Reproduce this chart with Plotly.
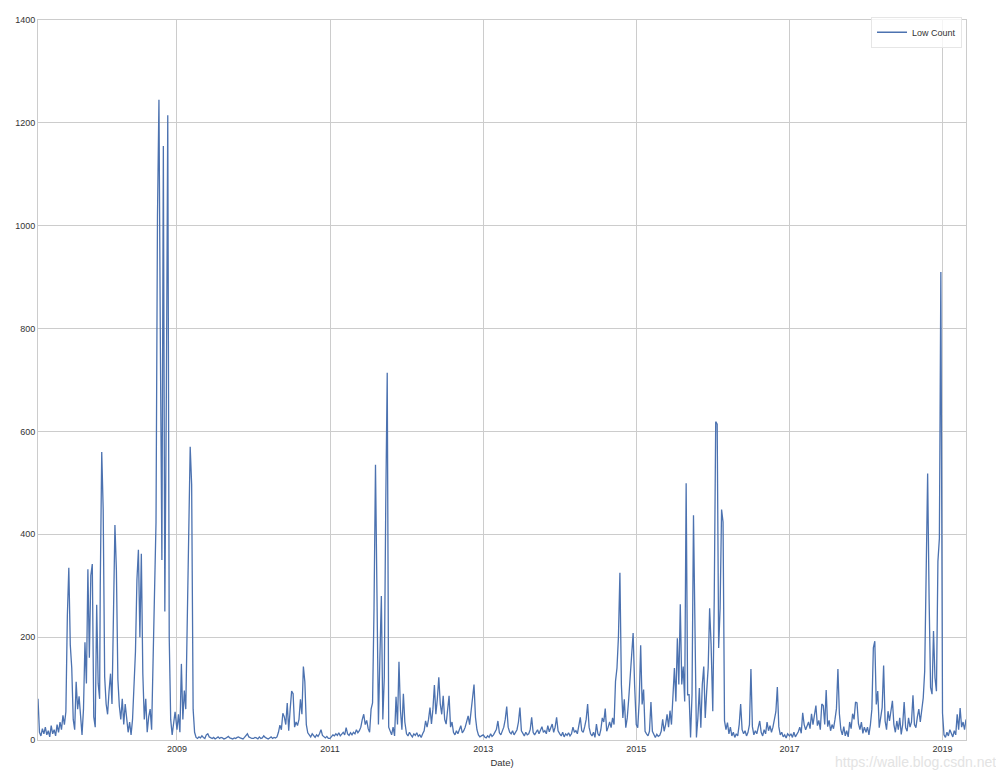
import pandas as pd
import plotly.graph_objects as go

# Weekly readings of "Low Count"
low_2007 = [80, 15, 8, 22, 12, 25, 10, 18, 6, 28, 12, 20, 8, 30, 15, 35, 20, 48, 30, 55,
            241, 335, 185, 140, 40, 20, 113, 60, 85, 40, 10, 60, 190, 110, 332, 160, 320, 342,
            45, 25, 263, 110, 80]
low_2008 = [300, 560, 448, 123, 70, 50, 95, 129, 70, 250, 418, 330, 118, 66, 40, 80, 30, 70,
            45, 15, 35, 10, 40, 120, 172, 312, 370, 200, 362, 130, 40, 80, 15, 45, 60, 20,
            180, 292, 424, 1020, 1245, 752, 350, 1155, 250, 652, 1215, 200, 40, 10, 30, 55]
low_2009 = [20, 50, 15, 148, 40, 96, 60, 225, 441, 570, 497, 60, 15,
            5, 3, 6, 4, 8, 5, 3, 10, 12, 6, 4, 3, 5, 2, 4, 6, 3, 5, 4, 2, 3, 5, 7, 4, 3, 2,
            4, 3, 5, 6, 4, 3, 2, 5, 8, 12, 6, 4, 3]
low_2010 = [3, 5, 4, 2, 6, 3, 4, 8, 5, 3, 2, 4, 6, 3, 5, 4, 6, 15, 29, 20, 52, 45, 30, 72,
            18, 60, 95, 90, 25, 35, 28, 40, 79, 50, 143, 113, 30, 14, 10, 6, 12, 8, 5, 10,
            7, 12, 20, 9, 6, 4, 7, 3]
low_2011 = [3, 6, 10, 8, 12, 9, 14, 8, 11, 15, 10, 24, 12, 9, 14, 10, 15, 12, 20, 14, 18,
            25, 40, 50, 30, 38, 22, 15, 60, 72, 257, 535, 285, 30, 160, 280, 40, 122, 460,
            714, 25, 19, 10, 25, 8, 84, 30, 152, 58, 20, 90, 35]
low_2012 = [12, 8, 15, 10, 6, 12, 9, 14, 7, 10, 5, 12, 18, 37, 25, 40, 63, 31, 60, 107, 50,
            80, 122, 70, 50, 86, 40, 31, 60, 86, 25, 35, 15, 10, 18, 12, 20, 28, 14, 18, 25,
            35, 47, 30, 57, 80, 108, 44, 20, 10, 6, 8]
low_2013 = [10, 6, 4, 8, 5, 12, 7, 10, 15, 21, 37, 14, 10, 18, 25, 40, 65, 25, 15, 12, 18,
            10, 14, 20, 35, 63, 18, 12, 8, 15, 10, 12, 20, 44, 15, 10, 14, 20, 12, 21, 26,
            15, 18, 12, 28, 16, 22, 31, 15, 25, 44, 18]
low_2014 = [12, 8, 15, 6, 12, 9, 14, 8, 12, 25, 15, 18, 12, 25, 44, 18, 15, 26, 40, 70, 25,
            12, 8, 15, 5, 31, 12, 8, 20, 43, 35, 61, 17, 25, 35, 24, 43, 30, 114, 140, 201,
            325, 108, 43, 79, 24, 43, 80, 127, 166, 208, 108]
low_2015 = [30, 24, 75, 184, 69, 98, 17, 12, 8, 17, 74, 17, 10, 5, 11, 7, 9, 17, 40, 17, 30,
            50, 25, 57, 30, 90, 140, 75, 198, 108, 264, 108, 143, 75, 499, 88, 88, 5, 88, 437,
            192, 5, 43, 101, 24, 108, 143, 43, 95, 140, 256, 185]
low_2016 = [56, 275, 619, 614, 179, 256, 448, 424, 37, 20, 34, 12, 25, 8, 15, 5, 12, 8, 30,
            70, 20, 12, 18, 8, 15, 30, 138, 26, 10, 18, 12, 22, 37, 15, 8, 20, 12, 35, 18, 28,
            15, 25, 41, 55, 103, 26, 10, 15, 6, 10, 4, 12]
low_2017 = [8, 12, 5, 15, 6, 10, 16, 25, 13, 53, 30, 20, 28, 35, 22, 51, 30, 45, 67, 28, 38,
            20, 70, 67, 30, 97, 26, 38, 18, 30, 22, 40, 61, 138, 51, 20, 10, 26, 8, 18, 6, 35,
            22, 51, 40, 74, 72, 32, 20, 35, 13, 25]
low_2018 = [15, 25, 10, 30, 60, 179, 192, 69, 95, 24, 40, 63, 145, 37, 20, 56, 37, 63, 76,
            30, 15, 37, 20, 43, 11, 30, 74, 24, 17, 43, 25, 35, 87, 30, 24, 45, 60, 35, 56, 82,
            134, 296, 518, 274, 102, 89, 212, 121, 95, 347, 392, 910]
low_2019 = [52, 10, 5, 15, 8, 20, 12, 6, 18, 10, 50, 20, 62, 25, 35, 20, 40]

yearly = [
    ("2007-03-10", low_2007), ("2008-01-01", low_2008), ("2009-01-01", low_2009),
    ("2010-01-01", low_2010), ("2011-01-01", low_2011), ("2012-01-01", low_2012),
    ("2013-01-01", low_2013), ("2014-01-01", low_2014), ("2015-01-01", low_2015),
    ("2016-01-01", low_2016), ("2017-01-01", low_2017), ("2018-01-01", low_2018),
    ("2019-01-01", low_2019),
]

dates, values = [], []
for start, vals in yearly:
    dates.extend(pd.date_range(start, periods=len(vals), freq="7D"))
    values.extend(vals)

fig = go.Figure()
fig.add_trace(go.Scatter(
    x=dates, y=values, mode="lines", name="Low Count",
    line=dict(color="#4C72B0", width=1.3),
))

grid = "#cccccc"
font_color = "#333333"
fig.update_layout(
    width=996, height=772,
    margin=dict(l=27, r=38, t=7, b=40),
    paper_bgcolor="white", plot_bgcolor="white",
    font=dict(family="Liberation Sans, Arial, sans-serif", size=9, color=font_color),
    showlegend=True,
    legend=dict(x=0.9957, y=0.983, xanchor="right", yanchor="middle",
                bgcolor="rgba(255,255,255,0.8)", bordercolor="#e6e6e6", borderwidth=1,
                font=dict(size=9, color=font_color), itemwidth=30,
                tracegroupgap=0),
    xaxis=dict(
        type="date", range=[dates[0], dates[-1]],
        tick0="2009-01-01", dtick="M24", tickformat="%Y",
        showgrid=True, gridcolor=grid, gridwidth=1,
        showline=True, linecolor=grid, linewidth=1, mirror=True,
        ticks="", zeroline=False,
        title=dict(text="Date)", font=dict(size=9.5, color=font_color), standoff=6),
    ),
    yaxis=dict(
        range=[0, 1400], dtick=200,
        showgrid=True, gridcolor=grid, gridwidth=1,
        showline=True, linecolor=grid, linewidth=1, mirror=True,
        ticks="", zeroline=False,
    ),
    annotations=[dict(
        text="https://walle.blog.csdn.net", xref="paper", yref="paper",
        x=1.034, y=-0.031, xanchor="right", yanchor="middle", showarrow=False,
        font=dict(size=14, color="#e3e3e3", family="Liberation Sans, Arial, sans-serif"),
    )],
)

fig.write_html("out.html")
